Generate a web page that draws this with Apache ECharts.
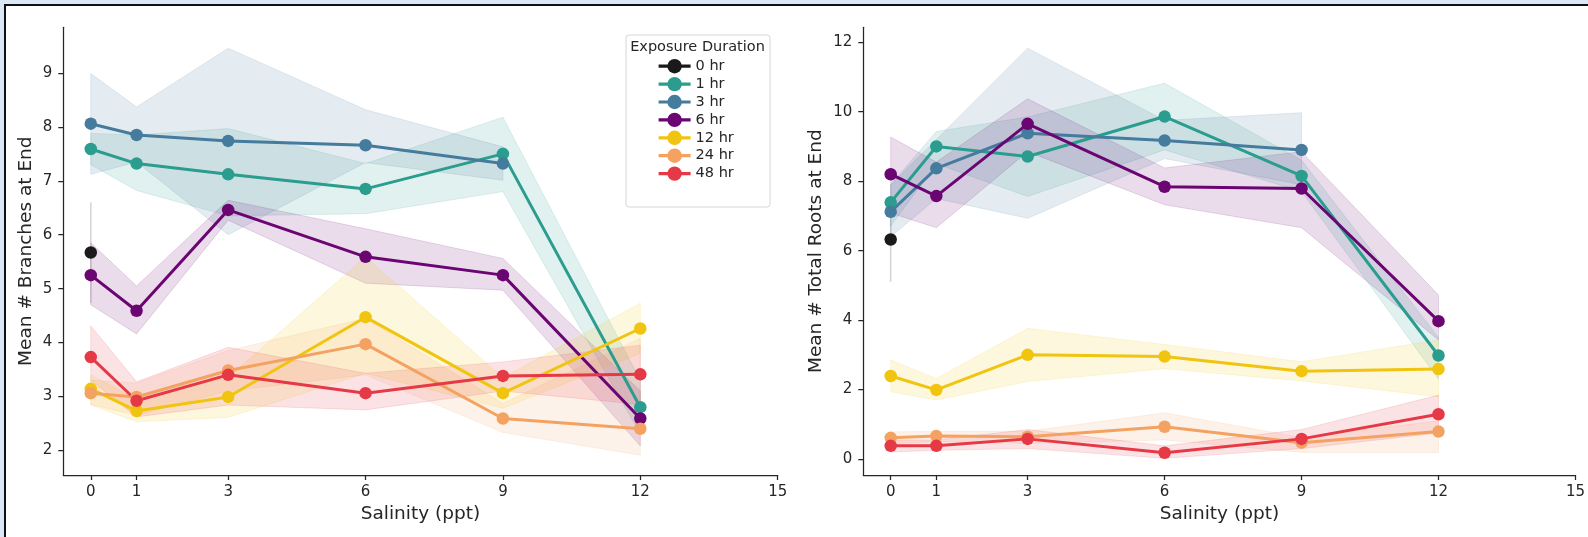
<!DOCTYPE html>
<html>
<head>
<meta charset="utf-8">
<script src="https://cdn.jsdelivr.net/npm/echarts@6/dist/echarts.min.js"></script>
<style>
  html, body { margin: 0; padding: 0; width: 1588px; height: 537px; overflow: hidden; background: #dbe8f5; }
  #frame { position: absolute; left: 4px; top: 4px; width: 1600px; height: 560px; border-left: 2px solid #111; border-top: 2px solid #111; background: #fff; }
  #chart { position: absolute; left: 0; top: 0; width: 1588px; height: 537px; }
</style>
</head>
<body>
<div id="frame"></div>
<div id="chart"></div>
<script>
// ---------- data ----------
const salinity = [0, 1, 3, 6, 9, 12];
const durations = ['0 hr', '1 hr', '3 hr', '6 hr', '12 hr', '24 hr', '48 hr'];
const xTicks = [0, 1, 3, 6, 9, 12, 15];
const yTicksBranches = [2, 3, 4, 5, 6, 7, 8, 9];
const yTicksRoots = [0, 2, 4, 6, 8, 10, 12];

// Mean # Branches at End (null = no observation)
const branches0h  = [5.67, null, null, null, null, null];
const branches1h  = [7.59, 7.32, 7.12, 6.85, 7.50, 2.80];
const branches3h  = [8.06, 7.85, 7.74, 7.66, 7.32, null];
const branches6h  = [5.25, 4.59, 6.46, 5.59, 5.25, 2.59];
const branches12h = [3.14, 2.73, 2.99, 4.47, 3.06, 4.26];
const branches24h = [3.06, 2.99, 3.48, 3.97, 2.59, 2.40];
const branches48h = [3.73, 2.92, 3.40, 3.06, 3.38, 3.41];
// confidence band (low / high)
const branches0hLo  = [4.73, null, null, null, null, null];
const branches0hHi  = [6.60, null, null, null, null, null];
const branches1hLo  = [7.30, 6.82, 6.35, 6.39, 6.80, 2.30];
const branches1hHi  = [7.88, 7.85, 7.97, 7.32, 8.18, 3.30];
const branches3hLo  = [7.12, 7.35, 6.00, 7.34, 7.01, null];
const branches3hHi  = [8.99, 8.37, 9.46, 8.32, 7.63, null];
const branches6hLo  = [4.70, 4.16, 6.27, 5.10, 4.97, 2.08];
const branches6hHi  = [5.85, 5.05, 6.64, 6.11, 5.56, 3.10];
const branches12hLo = [2.84, 2.53, 2.61, 3.43, 2.78, 3.80];
const branches12hHi = [3.40, 2.95, 3.35, 5.59, 3.35, 4.73];
const branches24hLo = [2.85, 2.65, 3.10, 3.40, 2.33, 1.91];
const branches24hHi = [3.30, 3.25, 3.85, 4.45, 2.87, 4.08];
const branches48hLo = [3.30, 2.62, 2.84, 2.75, 3.10, 2.85];
const branches48hHi = [4.31, 3.27, 3.91, 3.43, 3.64, 3.95];

// Mean # Total Roots at End
const roots0h  = [6.32, null, null, null, null, null];
const roots1h  = [7.39, 9.00, 8.71, 9.86, 8.15, 2.98];
const roots3h  = [7.12, 8.37, 9.38, 9.17, 8.90, null];
const roots6h  = [8.20, 7.57, 9.65, 7.84, 7.79, 3.97];
const roots12h = [2.39, 1.99, 3.00, 2.95, 2.53, 2.59];
const roots24h = [0.61, 0.66, 0.64, 0.93, 0.47, 0.79];
const roots48h = [0.38, 0.38, 0.58, 0.18, 0.58, 1.29];
const roots0hLo  = [5.10, null, null, null, null, null];
const roots0hHi  = [7.54, null, null, null, null, null];
const roots1hLo  = [6.70, 8.50, 7.56, 8.90, 7.70, 2.30];
const roots1hHi  = [7.90, 9.43, 9.85, 10.82, 8.60, 3.50];
const roots3hLo  = [6.40, 7.50, 6.93, 8.65, 7.90, null];
const roots3hHi  = [7.90, 9.20, 11.83, 9.75, 9.97, null];
const roots6hLo  = [7.08, 6.66, 8.85, 7.32, 6.66, 3.43];
const roots6hHi  = [9.27, 8.55, 10.37, 8.38, 8.85, 4.72];
const roots12hLo = [1.94, 1.70, 2.23, 2.60, 2.25, 1.79];
const roots12hHi = [2.85, 2.32, 3.76, 3.30, 2.80, 3.43];
const roots24hLo = [0.45, 0.50, 0.45, 0.55, 0.19, 0.19];
const roots24hHi = [0.78, 0.80, 0.80, 1.33, 0.62, 1.10];
const roots48hLo = [0.20, 0.25, 0.30, 0.02, 0.30, 0.75];
const roots48hHi = [0.55, 0.55, 0.85, 0.38, 0.85, 1.84];

// ---------- styling ----------
const colors = ['#1a1a1a', '#2a9d8f', '#457b9d', '#6a0572', '#f1c40f', '#f4a261', '#e63946'];
const FONT = 'DejaVu Sans';
const INK = '#262626';

const panels = [
  { means: [branches0h, branches1h, branches3h, branches6h, branches12h, branches24h, branches48h],
    los:   [branches0hLo, branches1hLo, branches3hLo, branches6hLo, branches12hLo, branches24hLo, branches48hLo],
    his:   [branches0hHi, branches1hHi, branches3hHi, branches6hHi, branches12hHi, branches24hHi, branches48hHi] },
  { means: [roots0h, roots1h, roots3h, roots6h, roots12h, roots24h, roots48h],
    los:   [roots0hLo, roots1hLo, roots3hLo, roots6hLo, roots12hLo, roots24hLo, roots48hLo],
    his:   [roots0hHi, roots1hHi, roots3hHi, roots6hHi, roots12hHi, roots24hHi, roots48hHi] }
];

function bandSeries(p, k) {
  const lo = panels[p].los[k], hi = panels[p].his[k];
  const pts = [];
  salinity.forEach((s, i) => { if (lo[i] != null && hi[i] != null) pts.push([s, lo[i], hi[i]]); });
  return {
    type: 'custom', name: durations[k] + ' band', xAxisIndex: p, yAxisIndex: p,
    silent: true, z: 2,
    data: pts,
    renderItem: function (params, api) {
      if (params.dataIndex !== 0) return null;
      const upper = pts.map(d => api.coord([d[0], d[2]]));
      const lower = pts.map(d => api.coord([d[0], d[1]])).reverse();
      if (pts.length === 1) {
        return { type: 'line', shape: { x1: upper[0][0], y1: upper[0][1], x2: lower[0][0], y2: lower[0][1] },
                 style: { stroke: colors[k], lineWidth: 1.6, opacity: 0.18 } };
      }
      return { type: 'polygon', shape: { points: upper.concat(lower) },
               style: { fill: colors[k], stroke: colors[k], lineWidth: 1, opacity: 0.14 } };
    }
  };
}

function lineSeries(p, k) {
  const m = panels[p].means[k];
  return {
    type: 'line', name: durations[k], xAxisIndex: p, yAxisIndex: p, z: 2,
    data: salinity.map((s, i) => [s, m[i]]).filter(d => d[1] != null),
    symbol: 'circle', symbolSize: 12.5, showSymbol: true,
    lineStyle: { color: colors[k], width: 3 },
    itemStyle: { color: colors[k] },
    emphasis: { disabled: true },
    animation: false
  };
}

const series = [];
for (let p = 0; p < 2; p++) {
  for (let k = 0; k < durations.length; k++) {
    series.push(lineSeries(p, k));
    series.push(bandSeries(p, k));
  }
}

function xAxis(idx) {
  return {
    type: 'value', gridIndex: idx, min: -0.6, max: 15,
    name: 'Salinity (ppt)', nameLocation: 'middle', nameGap: 30,
    nameTextStyle: { fontFamily: FONT, fontSize: 18.5, color: INK },
    axisLine: { show: true, onZero: false, lineStyle: { color: INK, width: 1.25 } },
    axisTick: { show: true, length: 5, lineStyle: { color: INK, width: 1.25 }, customValues: xTicks },
    axisLabel: { fontFamily: FONT, fontSize: 15, color: INK, margin: 10, customValues: xTicks },
    splitLine: { show: false }
  };
}
function yAxis(idx, name, min, max, ticks, gap) {
  return {
    type: 'value', gridIndex: idx, min: min, max: max,
    name: name, nameLocation: 'middle', nameGap: gap, nameRotate: 90,
    nameTextStyle: { fontFamily: FONT, fontSize: 18.5, color: INK },
    axisLine: { show: true, onZero: false, lineStyle: { color: INK, width: 1.25 } },
    axisTick: { show: true, length: 5, lineStyle: { color: INK, width: 1.25 }, customValues: ticks },
    axisLabel: { fontFamily: FONT, fontSize: 15, color: INK, margin: 11, customValues: ticks },
    splitLine: { show: false }
  };
}

const chart = echarts.init(document.getElementById('chart'), null, { renderer: 'canvas' });
chart.setOption({
  animation: false,
  backgroundColor: 'transparent',
  grid: [
    { left: 63.3, top: 27.3, width: 714.4, height: 447.7 },
    { left: 863.3, top: 27.3, width: 714, height: 447.7 }
  ],
  xAxis: [xAxis(0), xAxis(1)],
  yAxis: [
    yAxis(0, 'Mean # Branches at End', 1.542, 9.848, yTicksBranches, 28),
    yAxis(1, 'Mean # Total Roots at End', -0.46, 12.43, yTicksRoots, 38)
  ],
  legend: {
    data: durations, orient: 'vertical', left: 657, top: 58.7, padding: 0,
    itemWidth: 32, itemHeight: 18, itemGap: 2.9,
    lineStyle: { width: 3.2 },
    textStyle: { fontFamily: FONT, fontSize: 14.5, color: INK },
    selectedMode: false, z: 6
  },
  graphic: [
    { type: 'rect', z: 5, shape: { x: 626, y: 35, width: 144, height: 172, r: 3 },
      style: { fill: 'rgba(255,255,255,0.85)', stroke: '#d6d6d6', lineWidth: 1 } },
    { type: 'text', z: 7, x: 697.5, y: 47, style: { text: 'Exposure Duration', align: 'center', verticalAlign: 'middle',
      font: '14.5px "DejaVu Sans"', fill: INK } }
  ],
  series: series
});
</script>
</body>
</html>
